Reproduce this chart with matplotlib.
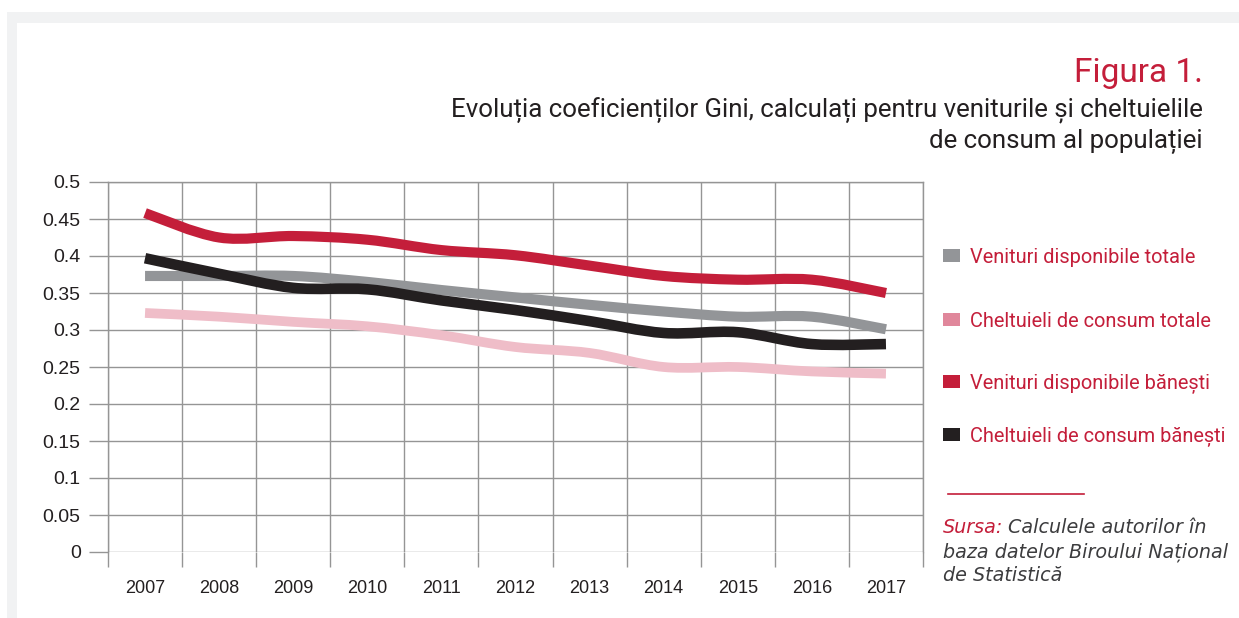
import matplotlib
matplotlib.use("Agg")
import matplotlib.pyplot as plt
from matplotlib.path import Path
from matplotlib.patches import PathPatch, Rectangle
from matplotlib.ticker import FixedLocator, FuncFormatter
import numpy as np

# ---------------- data ----------------
years = ["2007", "2008", "2009", "2010", "2011", "2012", "2013", "2014", "2015", "2016", "2017"]
venituri_totale = [0.373, 0.373, 0.373, 0.365, 0.354, 0.344, 0.334, 0.325, 0.318, 0.318, 0.301]
cheltuieli_totale = [0.323, 0.318, 0.311, 0.305, 0.293, 0.277, 0.269, 0.250, 0.250, 0.244, 0.241]
venituri_banesti = [0.458, 0.425, 0.427, 0.422, 0.408, 0.401, 0.387, 0.373, 0.368, 0.368, 0.350]
cheltuieli_banesti = [0.397, 0.376, 0.357, 0.355, 0.340, 0.327, 0.312, 0.296, 0.297, 0.281, 0.281]
series_labels = ["Venituri disponibile totale", "Cheltuieli de consum totale",
                 "Venituri disponibile bănești", "Cheltuieli de consum bănești"]
y_ticks = [0, 0.05, 0.1, 0.15, 0.2, 0.25, 0.3, 0.35, 0.4, 0.45, 0.5]

# ---------------- style ----------------
CRIMSON = "#c41e3a"
GRAY = "#939598"
BLACK = "#231f20"
PINK = "#efbdc8"
PINK_LEG = "#e0879b"
GRID = "#959595"
TEXT = "#231f20"

W, H = 1239, 618
fig = plt.figure(figsize=(W / 100, H / 100), dpi=100)
fig.patch.set_facecolor("white")

def fx(x):
    return x / W

def fy(y):
    return 1 - y / H

# background frame
fig.patches.append(Rectangle((fx(7), fy(618)), fx(1239 - 7), (618 - 12) / H,
                             transform=fig.transFigure, facecolor="#f1f2f3",
                             edgecolor="none", zorder=-20))
fig.patches.append(Rectangle((fx(17), fy(618)), fx(1239 - 17), (618 - 23) / H,
                             transform=fig.transFigure, facecolor="white",
                             edgecolor="none", zorder=-19))

ax = fig.add_axes([fx(108), fy(552), (923 - 108) / W, (552 - 182) / H])
ax.set_zorder(5)
ax.set_facecolor("none")
ax.set_xlim(-0.5, len(years) - 0.5)
ax.set_ylim(0, 0.5)
for s in ax.spines.values():
    s.set_visible(False)

xs = np.arange(len(years))
bounds = np.arange(len(years) + 1) - 0.5
ax.xaxis.set_major_locator(FixedLocator(xs))
ax.xaxis.set_minor_locator(FixedLocator(bounds))
ax.set_xticklabels(years, fontsize=13, family=["Liberation Sans", "DejaVu Sans"], color=TEXT)
ax.tick_params(axis="x", which="major", length=0, pad=20)
ax.tick_params(axis="x", which="minor", length=10.8, width=1, color=GRID, direction="out")
ax.yaxis.set_major_locator(FixedLocator(y_ticks))
ax.yaxis.set_major_formatter(FuncFormatter(lambda v, p: ("%g" % v)))
ax.tick_params(axis="y", length=13.7, width=1, color=GRID, pad=6.0, labelsize=14,
               labelcolor=TEXT)
for lab in ax.get_yticklabels():
    lab.set_family(["Liberation Sans", "DejaVu Sans"])
ax.grid(axis="y", which="major", color=GRID, lw=1)
ax.grid(axis="x", which="minor", color=GRID, lw=1)
ax.set_axisbelow(True)
# edge grid lines (unclipped so they keep full width)
ax.axhline(y_ticks[-1], color=GRID, lw=1, clip_on=False, zorder=1)
ax.axvline(bounds[0], color=GRID, lw=1, clip_on=False, zorder=1)
ax.axvline(bounds[-1], color=GRID, lw=1, clip_on=False, zorder=1)


def smooth_path(x, y):
    x = np.asarray(x, float)
    y = np.asarray(y, float)
    pts = np.column_stack([x, y])
    n = len(pts)
    verts = [pts[0]]
    codes = [Path.MOVETO]
    for i in range(n - 1):
        p0 = pts[i - 1] if i > 0 else pts[i]
        p1 = pts[i]
        p2 = pts[i + 1]
        p3 = pts[i + 2] if i + 2 < n else pts[i + 1]
        c1 = p1 + (p2 - p0) / 6.0
        c2 = p2 - (p3 - p1) / 6.0
        verts += [c1, c2, p2]
        codes += [Path.CURVE4] * 3
    return Path(verts, codes)


series = [
    (venituri_totale, GRAY, 7.3, 3),
    (cheltuieli_totale, PINK, 7.0, 3),
    (venituri_banesti, CRIMSON, 7.3, 4),
    (cheltuieli_banesti, BLACK, 7.6, 5),
]
for vals, col, lw, z in series:
    patch = PathPatch(smooth_path(xs, vals), facecolor="none", edgecolor=col, lw=lw,
                      capstyle="butt", joinstyle="round", zorder=z)
    ax.add_patch(patch)

# ---------------- titles ----------------
fig.text(fx(1203), fy(82), "Figura 1.", ha="right", va="baseline", color=CRIMSON,
         fontsize=24, family=["Roboto", "DejaVu Sans"])
sub_fam = ["Roboto", "DejaVu Sans"]
fig.text(fx(1203), fy(117), "Evoluția coeficienților Gini, calculați pentru veniturile și cheltuielile",
         ha="right", va="baseline", color=TEXT, fontsize=18.6, family=sub_fam)
fig.text(fx(1203), fy(148), "de consum al populației",
         ha="right", va="baseline", color=TEXT, fontsize=18.6, family=sub_fam)

# ---------------- legend ----------------
leg_colors = [GRAY, PINK_LEG, CRIMSON, BLACK]
leg_base = [263, 327, 389, 442]
for lab, col, yb in zip(series_labels, leg_colors, leg_base):
    fig.patches.append(Rectangle((fx(943), fy(yb - 1)), 17 / W, 13 / H,
                                 transform=fig.transFigure, facecolor=col,
                                 edgecolor="none", zorder=2))
    fig.text(fx(970), fy(yb), lab, ha="left", va="baseline", color=CRIMSON,
             fontsize=14.4, family=sub_fam)

# separator line
fig.add_artist(plt.Line2D([fx(948), fx(1084)], [fy(494), fy(494)],
                          transform=fig.transFigure, color=CRIMSON, lw=1.2))

# source
src_fam = ["DejaVu Sans"]
SRC_FS = 13.8
t1 = fig.text(fx(943), fy(533), "Sursa:", ha="left", va="baseline", color=CRIMSON,
              fontsize=SRC_FS, style="italic", family=src_fam)
fig.canvas.draw()
bb = t1.get_window_extent()
fig.text(bb.x1 / W + 5 / W, fy(533), "Calculele autorilor în", ha="left", va="baseline",
         color="#3c3c3e", fontsize=SRC_FS, style="italic", family=src_fam)
fig.text(fx(943), fy(557), "baza datelor Biroului Național", ha="left", va="baseline",
         color="#3c3c3e", fontsize=SRC_FS, style="italic", family=src_fam)
fig.text(fx(943), fy(581), "de Statistică", ha="left", va="baseline",
         color="#3c3c3e", fontsize=SRC_FS, style="italic", family=src_fam)

fig.savefig("out.png", dpi=100, facecolor="white")
